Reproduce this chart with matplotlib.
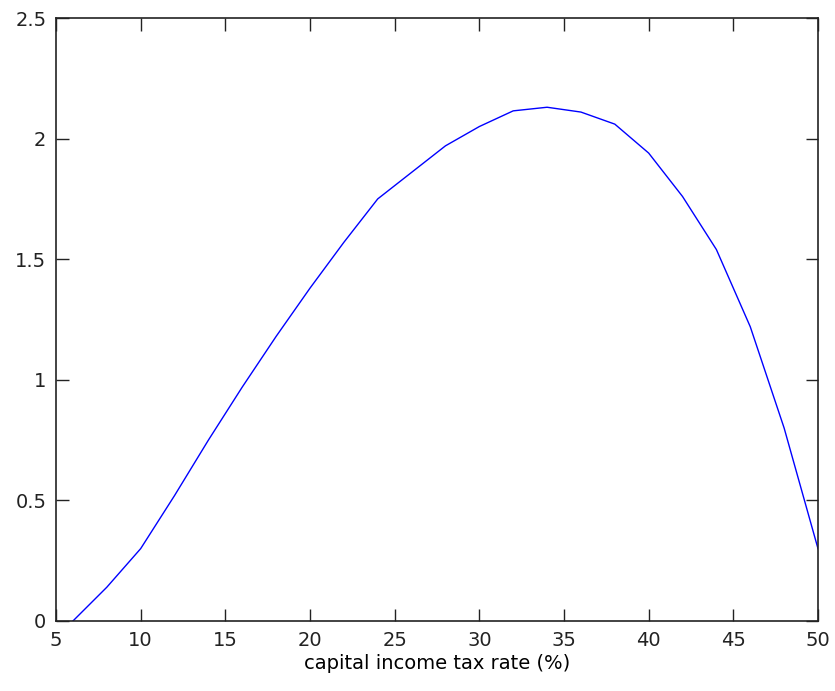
import matplotlib.pyplot as plt

# capital income tax rate (%)
tax_rate = [6, 8, 10, 12, 14, 16, 18, 20, 22, 24, 26, 28,
            30, 32, 34, 36, 38, 40, 42, 44, 46, 48, 50]
# value
welfare = [0.0, 0.14, 0.30, 0.52, 0.75, 0.97, 1.18, 1.38, 1.57, 1.75, 1.86, 1.97,
           2.05, 2.115, 2.13, 2.11, 2.06, 1.94, 1.76, 1.54, 1.22, 0.80, 0.30]

plt.rcParams['font.family'] = ['DejaVu Sans']

fig = plt.figure(figsize=(8.35, 6.91), dpi=100)
ax = fig.add_axes([56 / 835, 1 - 621 / 691, (818 - 56) / 835, (621 - 18) / 691])

ax.plot(tax_rate, welfare, color='blue', linewidth=1.0)

ax.set_xlim(5, 50)
ax.set_ylim(0, 2.5)
ax.set_xticks(range(5, 51, 5))
ax.set_yticks([0, 0.5, 1, 1.5, 2, 2.5])
ax.set_yticklabels(['0', '0.5', '1', '1.5', '2', '2.5'])
ax.tick_params(direction='in', length=9, width=1, top=True, right=True,
               labelsize=14, pad=7, colors='#222222')
for s in ax.spines.values():
    s.set_color('#222222')
    s.set_linewidth(1.2)

ax.set_xlabel('capital income tax rate (%)', fontsize=14, labelpad=3)

fig.savefig('out.png', dpi=100)
